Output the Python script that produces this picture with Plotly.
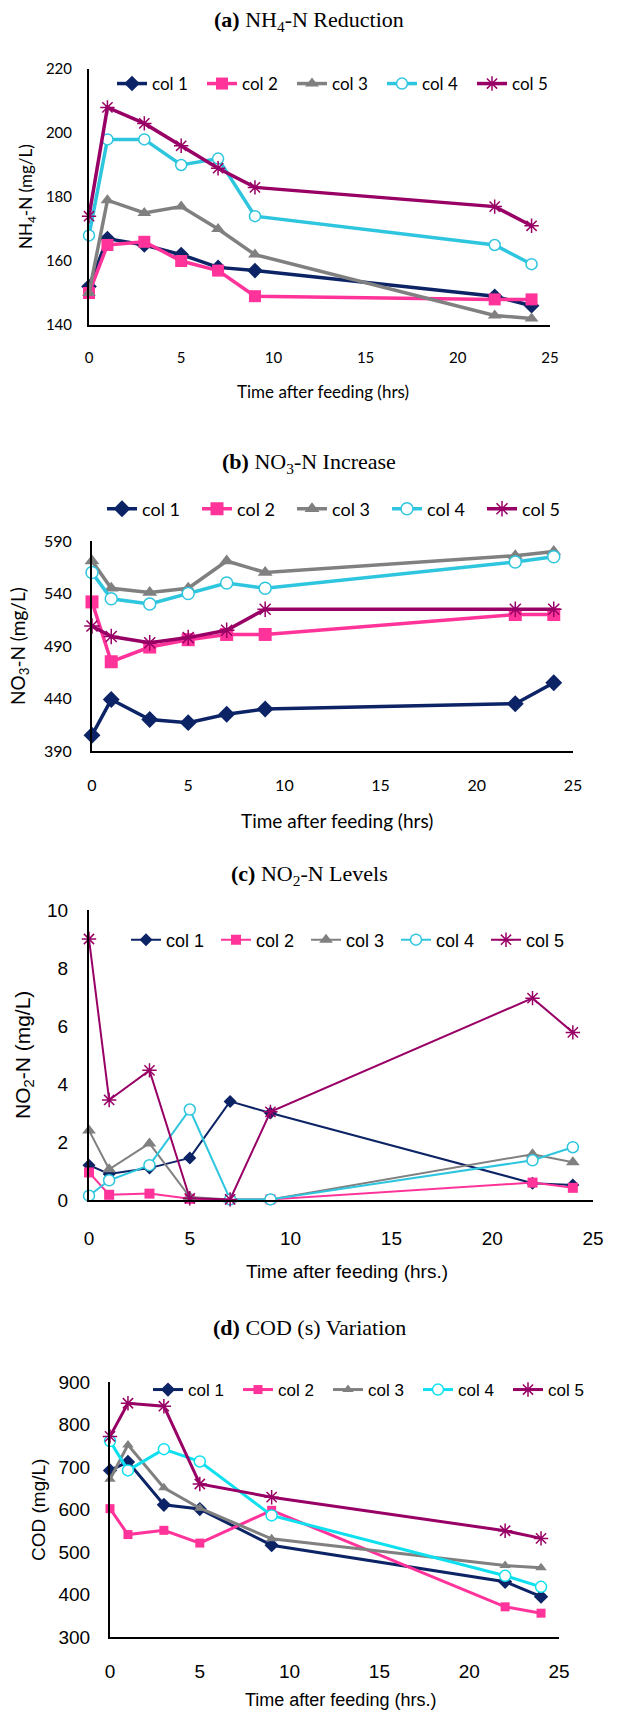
import plotly.graph_objects as go

W, H = 618, 1712

# ---------------- data ----------------
hours = [0, 1, 3, 5, 7, 9, 22, 24]
hours_cod = [0, 1, 3, 5, 9, 22, 24]
series_names = ["col 1", "col 2", "col 3", "col 4", "col 5"]

# (a) NH4-N (mg/L)
nh4_col1 = [152, 167, 165, 162, 158, 157, 149, 146]
nh4_col2 = [150, 165, 166, 160, 157, 149, 148, 148]
nh4_col3 = [150, 179, 175, 177, 170, 162, 143, 142]
nh4_col4 = [168, 198, 198, 190, 192, 174, 165, 159]
nh4_col5 = [174, 208, 203, 196, 189, 183, 177, 171]

# (b) NO3-N (mg/L)
no3_col1 = [405, 439, 420, 417, 425, 430, 435, 455]
no3_col2 = [532, 475, 489, 496, 501, 501, 520, 520]
no3_col3 = [571, 545, 541, 545, 571, 560, 576, 580]
no3_col4 = [560, 535, 530, 540, 550, 545, 570, 575]
no3_col5 = [509, 499, 493, 498, 505, 525, 525, 525]

# (c) NO2-N (mg/L)
no2_col1 = [1.2, 0.9, 1.1, 1.45, 3.4, 3.0, 0.58, 0.52]
no2_col2 = [0.95, 0.18, 0.22, 0.04, 0.02, 0.02, 0.6, 0.42]
no2_col3 = [2.4, 1.06, 1.95, 0.1, 0.02, 0.02, 1.58, 1.3]
no2_col4 = [0.15, 0.68, 1.2, 3.12, 0.02, 0.02, 1.37, 1.82]
no2_col5 = [9.0, 3.45, 4.47, 0.06, 0.02, 3.04, 6.96, 5.78]

# (d) COD (mg/L)
cod_col1 = [692, 712, 611, 601, 516, 430, 395]
cod_col2 = [602, 541, 551, 521, 598, 371, 356]
cod_col3 = [671, 752, 651, 603, 531, 468, 463]
cod_col4 = [761, 692, 742, 713, 586, 444, 418]
cod_col5 = [772, 850, 843, 660, 629, 550, 532]

x_ticks = [0, 5, 10, 15, 20, 25]

# ---------------- styles ----------------
colors = ["#0c2366", "#ff3399", "#808080", "#2ec6de", "#990066"]
colors_d = ["#0c2366", "#ff3399", "#808080", "#0fe0f0", "#990066"]
symbols = ["diamond", "square", "triangle-up", "circle", "asterisk-open"]

def px_x(v):
    return v / W

def px_y(v):
    return 1 - v / H

fig = go.Figure()

panels = [
    dict(key="", ok="5", xs=hours, data=[nh4_col1, nh4_col2, nh4_col3, nh4_col4, nh4_col5],
         dx=(89, 550), dy=(69, 325), yr=[140, 220], t0=140, dtick=20, font="Lato", tick=15,
         lw=3.5, msize=[12, 12, 12, 11, 12], col=colors, legend="legend", xgap=18, ygap=12),
    dict(key="2", ok="6", xs=hours, data=[no3_col1, no3_col2, no3_col3, no3_col4, no3_col5],
         dx=(92, 573), dy=(541, 751), yr=[390, 590], t0=390, dtick=50, font="Lato", tick=16,
         lw=3.5, msize=[13, 13, 13, 12, 13], col=colors, legend="legend2", xgap=19, ygap=15),
    dict(key="3", ok="7", xs=hours, data=[no2_col1, no2_col2, no2_col3, no2_col4, no2_col5],
         dx=(89, 593), dy=(910, 1200), yr=[0, 10], t0=0, dtick=2, font="Liberation Sans", tick=19,
         lw=2, msize=[10, 10, 12, 11, 12], col=colors, legend="legend3", xgap=20, ygap=15),
    dict(key="4", ok="8", xs=hours_cod, data=[cod_col1, cod_col2, cod_col3, cod_col4, cod_col5],
         dx=(110, 559), dy=(1382, 1637), yr=[300, 900], t0=300, dtick=100, font="Liberation Sans", tick=19,
         lw=3, msize=[11, 9, 10, 11, 12], col=colors_d, legend="legend4", xgap=16, ygap=14),
]

layout_axes = {}
for p in panels:
    k = p["key"]
    ok = p["ok"]
    for i, (name, ys) in enumerate(zip(series_names, p["data"])):
        sym = symbols[i]
        c = p["col"][i]
        if sym == "circle":
            marker = dict(symbol="circle", size=p["msize"][i], color="white",
                          line=dict(color=c, width=1.5))
        elif sym == "asterisk-open":
            marker = dict(symbol="asterisk-open", size=p["msize"][i], color=c,
                          line=dict(color=c, width=1.5))
        else:
            marker = dict(symbol=sym, size=p["msize"][i], color=c, line=dict(width=0))
        fig.add_trace(go.Scatter(
            x=p["xs"], y=ys, name=name, mode="lines+markers",
            line=dict(color=c, width=p["lw"]), marker=marker,
            xaxis="x" + k, yaxis="y" + k, legend=p["legend"], cliponaxis=False,
        ))
    tf = dict(family=p["font"], size=p["tick"], color="black")
    # main axes: carry the labels, long transparent ticks push labels away from the line
    layout_axes["xaxis" + k] = dict(
        domain=[px_x(p["dx"][0]), px_x(p["dx"][1])], range=[0, 25],
        tickmode="array", tickvals=x_ticks, ticks="outside", ticklen=p["xgap"], tickwidth=1,
        tickcolor="rgba(0,0,0,0)", showline=True, linecolor="black", linewidth=2,
        showgrid=False, zeroline=False, tickfont=tf, anchor="y" + k, fixedrange=True,
    )
    layout_axes["yaxis" + k] = dict(
        domain=[px_y(p["dy"][1]), px_y(p["dy"][0])], range=p["yr"],
        tick0=p["t0"], dtick=p["dtick"],
        ticks="outside", ticklen=p["ygap"], tickwidth=1, tickcolor="rgba(0,0,0,0)", showline=True,
        linecolor="black", linewidth=2, showgrid=False, zeroline=False, tickfont=tf,
        anchor="x" + k, fixedrange=True,
    )
    # overlay axes: the short visible tick marks
    layout_axes["xaxis" + ok] = dict(
        overlaying="x" + k, anchor="y" + k, range=[0, 25], tickmode="array", tickvals=x_ticks,
        ticks="outside", ticklen=5, tickwidth=1.5, tickcolor="black", showticklabels=False,
        showline=False, showgrid=False, zeroline=False, fixedrange=True,
    )
    layout_axes["yaxis" + ok] = dict(
        overlaying="y" + k, anchor="x" + k, range=p["yr"], tick0=p["t0"], dtick=p["dtick"],
        ticks="outside", ticklen=5, tickwidth=1.5, tickcolor="black", showticklabels=False,
        showline=False, showgrid=False, zeroline=False, fixedrange=True,
    )

fig.update_layout(**layout_axes)

def legend_cfg(x0, yc, fam, size, ew):
    return dict(orientation="h", x=px_x(x0), y=px_y(yc), xanchor="left", yanchor="middle",
                bgcolor="rgba(0,0,0,0)", font=dict(family=fam, size=size, color="black"),
                itemwidth=30, entrywidth=ew, entrywidthmode="pixels", tracegroupgap=0)

fig.update_layout(
    width=W, height=H, margin=dict(l=0, r=0, t=0, b=0, autoexpand=False),
    paper_bgcolor="white", plot_bgcolor="white", showlegend=True,
    legend=legend_cfg(112, 84, "Lato", 17, 45),
    legend2=legend_cfg(102, 509, "Lato", 18, 50),
    legend3=legend_cfg(126, 940, "Liberation Sans", 18, 45),
    legend4=legend_cfg(148, 1390, "Liberation Sans", 17, 45),
)

titles = [
    ("<b>(a)</b> NH<sub>4</sub>-N Reduction", 21),
    ("<b>(b)</b> NO<sub>3</sub>-N Increase", 463),
    ("<b>(c)</b> NO<sub>2</sub>-N Levels", 875),
    ("<b>(d)</b> COD (s) Variation", 1327),
]
for t, yc in titles:
    fig.add_annotation(text=t, x=0.5, y=px_y(yc), xref="paper", yref="paper",
                       xanchor="center", yanchor="middle", showarrow=False,
                       font=dict(family="Liberation Serif", size=22, color="black"))

x_titles = [
    ("Time after feeding (hrs)", 323, 392, "Lato", 17),
    ("Time after feeding (hrs)", 337, 820, "Lato", 19),
    ("Time after feeding (hrs.)", 347, 1271, "Liberation Sans", 19),
    ("Time after feeding (hrs.)", 340, 1700, "Liberation Sans", 18),
]
for t, xc, yc, fam, s in x_titles:
    fig.add_annotation(text=t, x=px_x(xc), y=px_y(yc), xref="paper", yref="paper",
                       xanchor="center", yanchor="middle", showarrow=False,
                       font=dict(family=fam, size=s, color="black"))

y_titles = [
    ("NH<sub>4</sub>-N (mg/L)", 27, 197, "Lato", 17),
    ("NO<sub>3</sub>-N (mg/L)", 19, 646, "Lato", 19),
    ("NO<sub>2</sub>-N (mg/L)", 24, 1055, "Liberation Sans", 21),
    ("COD (mg/L)", 38, 1510, "Liberation Sans", 19),
]
for t, xc, yc, fam, s in y_titles:
    fig.add_annotation(text=t, x=px_x(xc), y=px_y(yc), xref="paper", yref="paper",
                       xanchor="center", yanchor="middle", showarrow=False, textangle=-90,
                       font=dict(family=fam, size=s, color="black"))

fig.write_html("out.html")
